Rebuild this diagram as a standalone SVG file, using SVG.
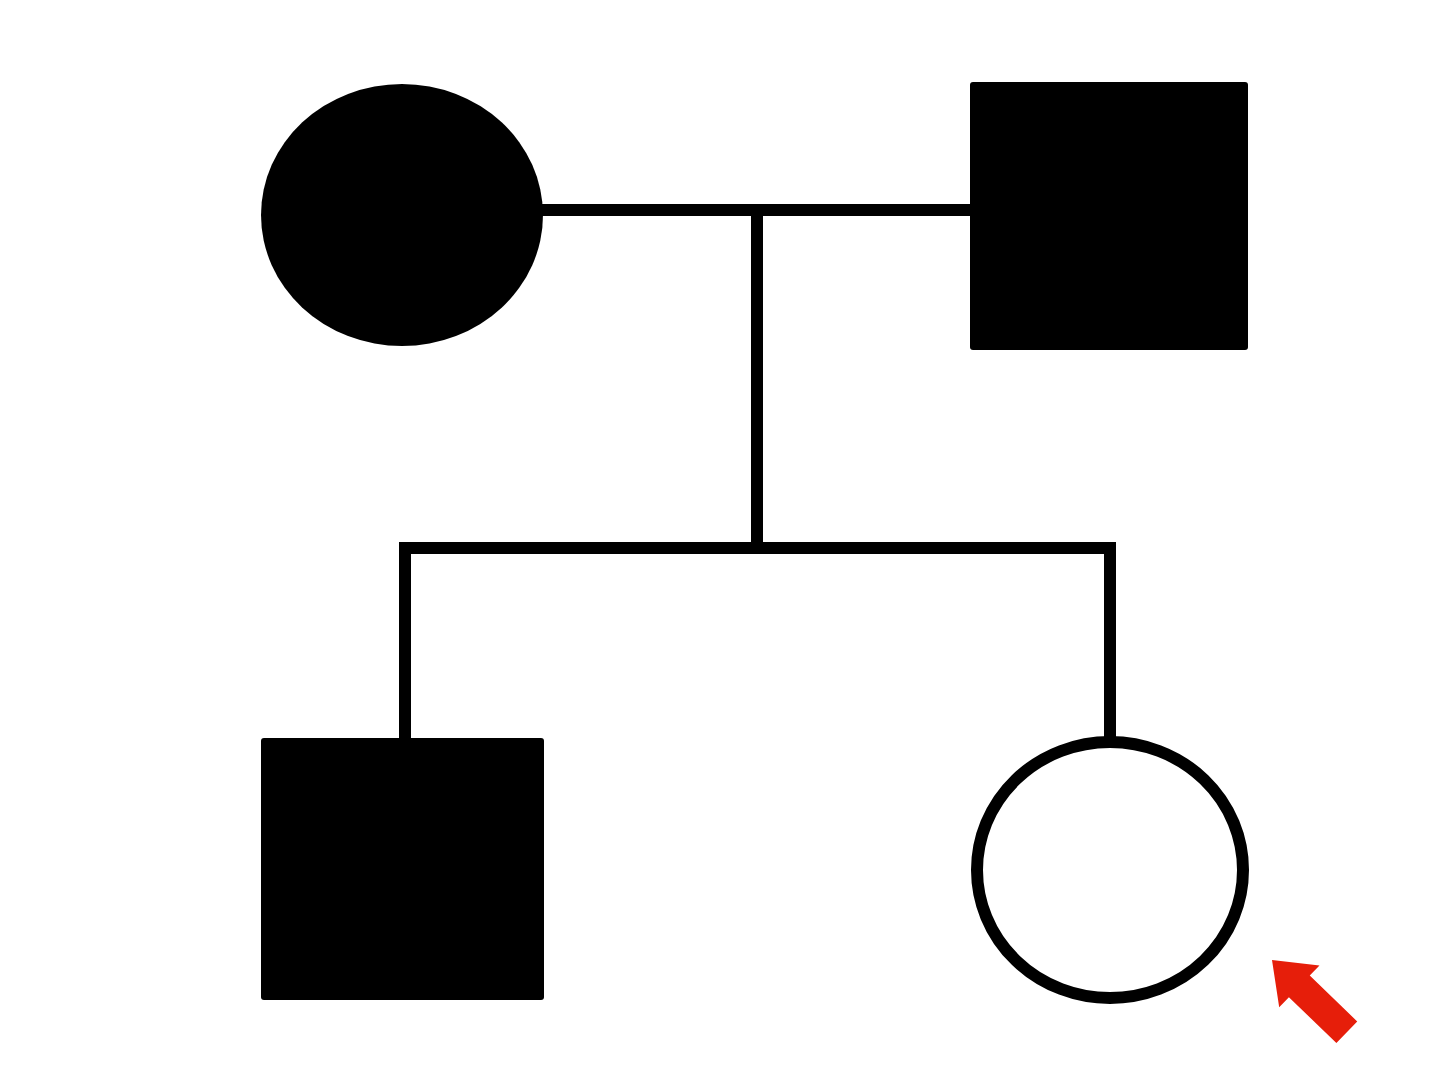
<svg xmlns="http://www.w3.org/2000/svg" width="1440" height="1089" viewBox="0 0 1440 1089">
<style>
.filled{fill:#000;stroke:none}
.open{fill:#fff;stroke:#000;stroke-width:12}
.line{stroke:#000;stroke-width:12;fill:none;stroke-linejoin:miter;stroke-linecap:butt}
</style>
<rect width="1440" height="1089" fill="#fff"/>
<g id="connectors">
<path class="line" d="M540,210 H975"/>
<path class="line" d="M757,210 V548"/>
<path class="line" d="M405,742 V548 H1110 V742"/>
</g>
<g id="mother"><ellipse class="filled" cx="402" cy="215" rx="141" ry="131"/></g>
<g id="father"><rect class="filled" x="970" y="82" width="278" height="268" rx="3"/></g>
<g id="son"><rect class="filled" x="261" y="738" width="283" height="262" rx="3"/></g>
<g id="daughter"><ellipse class="open" cx="1110" cy="870" rx="133" ry="128"/></g>
<g id="proband-arrow">
<polygon fill="#e61e0a" transform="translate(1272,960) rotate(44)" points="0,0 38,-29 38,-15 104,-15 104,15 38,15 38,29"/>
</g>
</svg>
